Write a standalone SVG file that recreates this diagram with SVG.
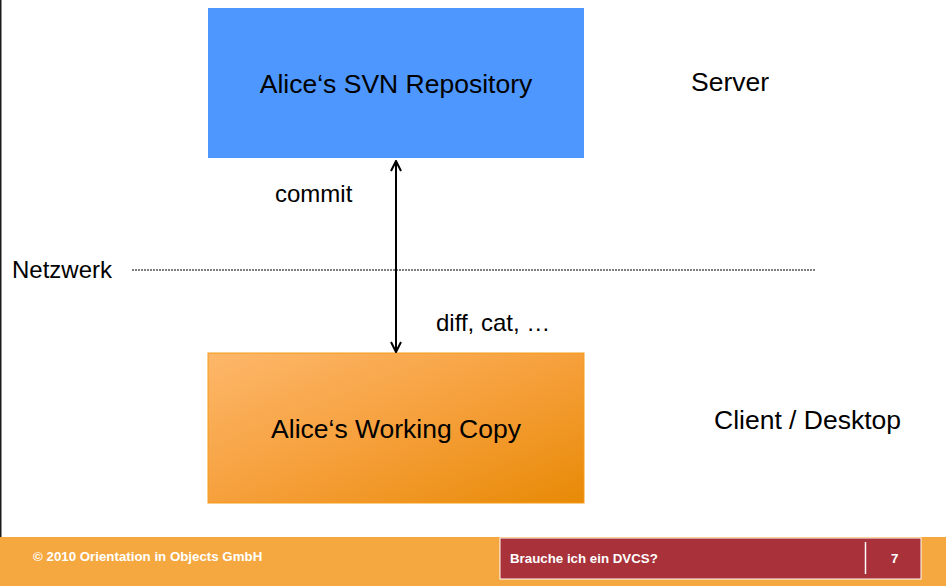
<svg xmlns="http://www.w3.org/2000/svg" width="946" height="586" viewBox="0 0 946 586">
<defs>
<style>
.t{font-family:"Liberation Sans",Arial,sans-serif;fill:#000}
.f{font-family:"Liberation Sans",Arial,sans-serif;fill:#fff;font-weight:bold;font-size:13.3px}
</style>
<linearGradient id="og" x1="0" y1="0" x2="1" y2="1">
<stop offset="0" stop-color="#fdb76a"/>
<stop offset="0.5" stop-color="#f6a03c"/>
<stop offset="1" stop-color="#e88a06"/>
</linearGradient>
<marker id="ah" viewBox="0 0 12 12" refX="11" refY="6" markerWidth="12" markerHeight="12" orient="auto-start-reverse" markerUnits="userSpaceOnUse">
<path d="M1,1 L11,6 L1,11" fill="none" stroke="#000" stroke-width="2"/>
</marker>
</defs>
<rect width="946" height="586" fill="#fff"/>
<line x1="0.75" y1="0" x2="0.75" y2="537" stroke="#1a1a1a" stroke-width="1.5"/>
<g id="repo">
<rect x="208" y="8" width="376" height="150" fill="#4d97ff"/>
<text class="t" x="396" y="93" font-size="26.5" text-anchor="middle">Alice‘s SVN Repository</text>
</g>
<g id="wc">
<rect x="208" y="353" width="376" height="150" fill="url(#og)" stroke="#f39b1a" stroke-width="1"/>
<text class="t" x="396" y="438" font-size="26.5" text-anchor="middle">Alice‘s Working Copy</text>
</g>
<g id="labels">
<text class="t" x="691" y="91" font-size="26.5">Server</text>
<text class="t" x="714" y="429" font-size="26.5">Client / Desktop</text>
<text class="t" x="12" y="278" font-size="24">Netzwerk</text>
<text class="t" x="275" y="202" font-size="24">commit</text>
<text class="t" x="436" y="331" font-size="24">diff, cat, …</text>
</g>
<g id="connectors">
<line x1="132" y1="270" x2="816" y2="270" stroke="#000" stroke-width="1.2" stroke-dasharray="2,1"/>
<line x1="396" y1="161" x2="396" y2="352" stroke="#000" stroke-width="2" marker-start="url(#ah)" marker-end="url(#ah)"/>
</g>
<g id="footer">
<rect x="0" y="537" width="946" height="49" fill="#f5a83f"/>
<rect x="500" y="538" width="421" height="41" fill="#a8313a" stroke="#fff" stroke-width="1"/>
<line x1="865.5" y1="542" x2="865.5" y2="574" stroke="#fff" stroke-width="1.5"/>
<text class="f" x="33" y="561">© 2010 Orientation in Objects GmbH</text>
<text class="f" x="510" y="563">Brauche ich ein DVCS?</text>
<text class="f" x="891" y="563">7</text>
</g>
</svg>
